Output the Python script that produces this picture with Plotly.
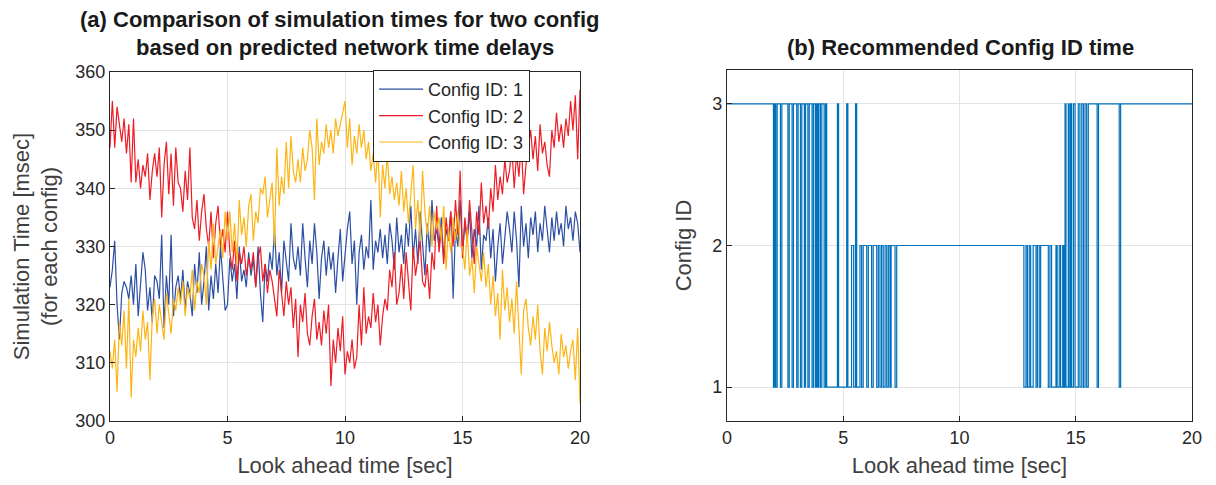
import numpy as np
import plotly.graph_objects as go

# ---------------- data ----------------
t = np.round(np.arange(0, 20.001, 0.1), 2)

config1 = [
    323, 326, 331, 320, 314, 322, 324, 323, 321, 325,
    320, 327, 318, 324, 329, 326, 319, 323, 317, 325,
    324, 321, 332, 316, 325, 320, 332, 318, 323, 325,
    321, 326, 319, 324, 322, 318, 327, 322, 329, 320,
    324, 330, 319, 325, 321, 327, 322, 330, 324, 319,
    320, 328, 324, 327, 321, 330, 324, 326, 323, 329,
    325, 328, 323, 330, 322, 317, 327, 324, 329, 326,
    333, 325, 329, 322, 331, 327, 324, 334, 328, 326,
    330, 325, 334, 328, 323, 331, 327, 334, 329, 321,
    328, 331, 325, 330, 326, 329, 322, 328, 333, 324,
    329, 333, 336, 327, 331, 320, 329, 332, 326, 330,
    328, 338, 326, 331, 329, 333, 328, 332, 327, 334,
    331, 326, 335, 329, 332, 327, 334, 330, 337, 328,
    333, 327, 336, 330, 325, 334, 329, 338, 331, 333,
    330, 335, 328, 333, 331, 336, 321, 333, 330, 338,
    329, 334, 331, 336, 328, 333, 330, 337, 326, 332,
    331, 335, 328, 333, 324, 330, 334, 327, 332, 336,
    333, 329, 336, 331, 323, 337, 330, 334, 328, 335,
    332, 336, 329, 334, 331, 337, 333, 329, 335, 331,
    336, 332, 334, 330, 337, 333, 335, 331, 336, 334,
    329,
]

config2 = [
    347, 355, 347, 354, 351, 348, 352, 346, 351, 341,
    352, 341, 345, 340, 344, 342, 346, 338, 343, 346,
    342, 347, 335, 344, 348, 339, 346, 337, 347, 341,
    340, 336, 343, 338, 347, 335, 333, 338, 331, 336,
    339, 333, 330, 336, 328, 334, 337, 330, 333, 329,
    336, 329, 326, 331, 324, 329, 327, 330, 325, 328,
    326, 329, 323, 328, 330, 324, 327, 322, 326, 324,
    321, 318, 326, 322, 318, 324, 320, 323, 316, 321,
    311, 320, 317, 322, 315, 313, 318, 321, 314, 317,
    313, 319, 315, 320, 306, 314, 310, 316, 312, 318,
    308, 312, 310, 314, 309, 311, 320, 313, 323, 315,
    318, 316, 322, 317, 320, 313, 318, 321, 319, 326,
    323, 329, 320, 322, 327, 321, 329, 324, 319, 330,
    325, 328, 331, 324, 323, 327, 321, 329, 326, 337,
    329, 333, 327, 335, 331, 336, 330, 338, 332, 343,
    328, 335, 331, 338, 333, 327, 336, 332, 341, 334,
    337, 333, 340, 336, 344, 338, 342, 339, 345, 341,
    343, 347, 340, 346, 342, 348, 339, 344, 347, 350,
    345, 349, 343, 351, 346, 348, 344, 342, 350, 347,
    353, 348, 351, 347, 352, 349, 355, 350, 356, 345,
    357,
]

config3 = [
    312, 309, 314, 305, 317, 313, 319, 309, 321, 304,
    314, 311, 316, 312, 319, 314, 317, 307, 318, 321,
    315, 320, 317, 314, 322, 318, 315, 321, 319, 323,
    320, 324, 318, 323, 321, 326, 319, 324, 322, 327,
    325, 320, 331, 326, 334, 327, 330, 333, 328, 336,
    331, 336, 329, 334, 327, 338, 332, 335, 330, 337,
    339, 331, 336, 334, 340, 339, 342, 335, 338, 341,
    330, 347, 337, 342, 339, 348, 340, 349, 343, 341,
    345, 341, 347, 343, 345, 350, 347, 338, 352, 344,
    348, 346, 351, 347, 350, 346, 352, 349, 351, 353,
    355, 347, 352, 344, 349, 346, 351, 347, 350, 345,
    348, 343, 346, 341, 347, 335, 344, 340, 346, 339,
    342, 338, 341, 337, 343, 336, 340, 334, 339, 344,
    333, 338, 331, 343, 336, 332, 337, 330, 336, 333,
    335, 331, 337, 326, 333, 329, 335, 331, 336, 330,
    330, 326, 333, 325, 328, 322, 330, 327, 324, 329,
    323, 327, 320, 325, 318, 322, 314, 326, 319, 323,
    317, 321, 315, 324, 317, 308, 319, 321, 316, 313,
    318, 314, 320, 312, 308, 316, 312, 317, 313, 310,
    312, 308, 315, 311, 313, 309, 312, 314, 307, 316,
    303,
]

# recommended config (step changes: time where the value starts, value)
rec_t = [0.00, 2.00, 2.05, 2.10, 2.16, 2.30, 2.36, 2.62, 2.68, 2.80,
         2.86, 3.00, 3.06, 3.16, 3.22, 3.33, 3.38, 3.48, 3.54, 3.66,
         3.72, 3.80, 3.85, 3.90, 3.95, 4.02, 4.08, 4.18, 4.24, 4.29,
         4.75, 4.80, 5.15, 5.20, 5.36, 5.45, 5.53, 5.58, 5.72, 5.79,
         5.86, 6.01, 6.08, 6.22, 6.29, 6.44, 6.51, 6.58, 6.65, 6.72,
         6.80, 6.87, 6.94, 7.01, 7.06, 7.23, 7.30,
         12.77, 12.86, 12.92, 13.00, 13.06, 13.17, 13.29, 13.35, 13.43, 13.49,
         13.82, 13.89, 13.96, 14.15, 14.20, 14.29, 14.35, 14.44, 14.49,
         14.54, 14.58, 14.68, 14.72, 14.78, 14.82, 14.90, 14.97, 15.11, 15.18,
         15.26, 15.33, 15.40, 15.47, 15.54, 15.92, 15.98, 16.87, 16.93, 20.00]
rec_id = [3, 1, 3, 1, 3, 1, 3, 1, 3, 1,
          3, 1, 3, 1, 3, 1, 3, 1, 3, 1,
          3, 1, 3, 1, 3, 1, 3, 1, 3, 1,
          3, 1, 3, 1, 2, 1, 3, 1, 2, 1,
          2, 1, 2, 1, 2, 1, 2, 1, 2, 1,
          2, 1, 2, 1, 2, 1, 2,
          1, 2, 1, 2, 1, 2, 1, 2, 1, 2,
          1, 2, 1, 2, 1, 2, 1, 2, 1,
          3, 1, 3, 1, 3, 1, 3, 1, 3, 1,
          3, 1, 3, 1, 3, 1, 3, 1, 3, 3]

series_names = ["Config ID: 1", "Config ID: 2", "Config ID: 3"]
series_colors = ["#2C4EA3", "#EE1C25", "#FDB515"]

x_ticks = [0, 5, 10, 15, 20]
y1_ticks = [300, 310, 320, 330, 340, 350, 360]
y2_ticks = [1, 2, 3]

left_title = ["(a) Comparison of simulation times for two config",
              "based on predicted network time delays"]
right_title = "(b) Recommended Config ID time"

# ---------------- figure ----------------
FONT = "Liberation Sans, Arial, sans-serif"
AX = "#262626"
LBL = "#404040"
GRID = "#E3E3E3"
W, H = 1216, 485
ML, MR, MT, MB = 110, 24, 70, 64

fig = go.Figure()
for name, vals, col in zip(series_names, [config1, config2, config3], series_colors):
    fig.add_trace(go.Scatter(x=t, y=vals, mode="lines", name=name,
                             line=dict(color=col, width=1.2),
                             xaxis="x", yaxis="y"))

fig.add_trace(go.Scatter(x=rec_t, y=rec_id, mode="lines", line_shape="hv",
                         line=dict(color="#0072BD", width=1.2),
                         showlegend=False, xaxis="x2", yaxis="y2"))

common_axis = dict(showline=True, linecolor=AX, linewidth=1, mirror=True,
                   ticks="inside", ticklen=5, tickcolor=AX,
                   showgrid=True, gridcolor=GRID, gridwidth=1, zeroline=False,
                   tickfont=dict(family=FONT, size=18, color=AX))

pw = W - ML - MR
ph = H - MT - MB
def px_x(px):
    return (px - ML) / pw
def px_y(py):
    return (H - MB - py) / ph

title_font = dict(family=FONT, size=22, color="#1a1a1a")
annotations = [
    dict(text="<b>%s</b>" % left_title[0], x=px_x(339), y=px_y(20)),
    dict(text="<b>%s</b>" % left_title[1], x=px_x(345), y=px_y(48)),
    dict(text="<b>%s</b>" % right_title, x=px_x(960), y=px_y(48)),
]
for a in annotations:
    a.update(xref="paper", yref="paper", showarrow=False,
             xanchor="center", yanchor="middle", font=title_font)

axis_title_font = dict(family=FONT, size=22, color=LBL)

fig.update_layout(
    width=W, height=H,
    margin=dict(l=ML, r=MR, t=MT, b=MB),
    paper_bgcolor="white", plot_bgcolor="white",
    font=dict(family=FONT, color=AX),
    xaxis=dict(domain=[0, 0.4344], range=[0, 20], tickvals=x_ticks, anchor="y",
               title=dict(text="Look ahead time [sec]", font=axis_title_font, standoff=11),
               **common_axis),
    yaxis=dict(domain=[0, 0.9943], range=[300, 360], tickvals=y1_ticks, anchor="x",
               title=dict(text="Simulation Time [msec]<br>(for each config)",
                          font=axis_title_font, standoff=11),
               **common_axis),
    xaxis2=dict(domain=[0.5702, 1.0], range=[0, 20], tickvals=x_ticks, anchor="y2",
                title=dict(text="Look ahead time [sec]", font=axis_title_font, standoff=11),
                **common_axis),
    yaxis2=dict(domain=[0, 1.0], range=[0.76, 3.24], tickvals=y2_ticks, anchor="x2",
                title=dict(text="Config ID", font=axis_title_font, standoff=14),
                **common_axis),
    legend=dict(x=px_x(373), y=px_y(70), xanchor="left", yanchor="top",
                bgcolor="white", bordercolor=AX, borderwidth=1,
                font=dict(family=FONT, size=18, color=AX),
                tracegroupgap=0, itemwidth=44),
    annotations=annotations,
)

fig.write_html("out.html")
